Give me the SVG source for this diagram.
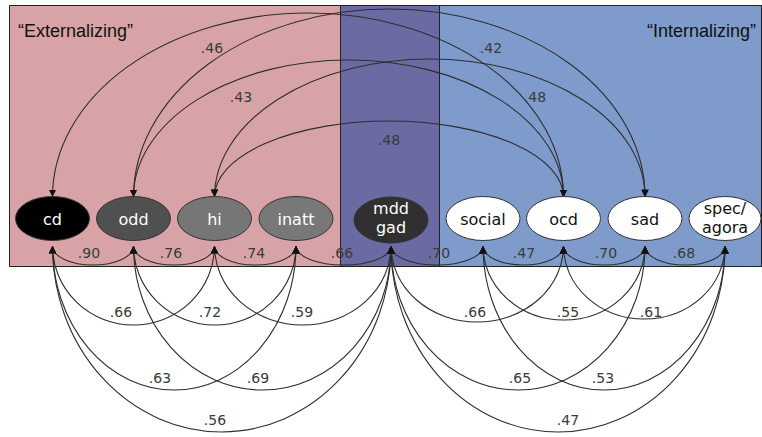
<svg xmlns="http://www.w3.org/2000/svg" width="762" height="437" viewBox="0 0 762 437">
  <defs>
    <marker id="arr" viewBox="0 0 10 10" refX="10" refY="5" markerUnits="userSpaceOnUse" markerWidth="7.5" markerHeight="7.5" orient="auto-start-reverse">
      <path d="M0,0 L10,5 L0,10 z" fill="#111"/>
    </marker>
    <style>
      .panel { stroke: #222; stroke-width: 1; }
      .conn { fill: none; stroke: #2e2e2e; stroke-width: 1.1; marker-start: url(#arr); marker-end: url(#arr); }
      .node { stroke: #333; stroke-width: 1; }
      .nt { font-family: "DejaVu Sans", Verdana, sans-serif; font-size: 16px; text-anchor: middle; }
      .lbl { font-family: "DejaVu Sans", Verdana, sans-serif; font-size: 14px; fill: #3a3a3a; text-anchor: middle; }
      .title { font-family: "Liberation Sans", Arial, sans-serif; font-size: 18px; fill: #111; }
    </style>
  </defs>
  <rect width="762" height="437" fill="#ffffff"/>
  <g id="regions">
    <rect x="9.5" y="5.5" width="331" height="261" fill="#d8a3a6" class="panel"/>
    <rect x="340.5" y="5.5" width="99" height="261" fill="#6b6aa2" class="panel"/>
    <rect x="439.5" y="5.5" width="322" height="261" fill="#7e9bcc" class="panel"/>
    <text x="18" y="37" class="title">“Externalizing”</text>
    <text x="756" y="37" class="title" text-anchor="end">“Internalizing”</text>
  </g>
  <g id="connectors">
    <path class="conn" d="M52.5,197 A255.5,184 0 0 1 563.5,197"/>
    <path class="conn" d="M133.5,197 A255.75,188 0 0 1 645,197"/>
    <path class="conn" d="M133.5,197 A215,137 0 0 1 563.5,197"/>
    <path class="conn" d="M214.5,197 A215.25,138 0 0 1 645,197"/>
    <path class="conn" d="M214.5,197 A174.5,76 0 0 1 563.5,197"/>

    <path class="conn" d="M52.5,246 A40.5,19 0 0 0 133.5,246"/>
    <path class="conn" d="M133.5,246 A40.5,19 0 0 0 214.5,246"/>
    <path class="conn" d="M214.5,246 A40.75,19 0 0 0 296,246"/>
    <path class="conn" d="M296,246 A47.5,19 0 0 0 391,246"/>
    <path class="conn" d="M391,246 A46,19 0 0 0 483,246"/>
    <path class="conn" d="M483,246 A40.25,19 0 0 0 563.5,246"/>
    <path class="conn" d="M563.5,246 A40.75,19 0 0 0 645,246"/>
    <path class="conn" d="M645,246 A40,19 0 0 0 725,246"/>

    <path class="conn" d="M52.5,246 A81,79 0 0 0 214.5,246"/>
    <path class="conn" d="M133.5,246 A81.25,79 0 0 0 296,246"/>
    <path class="conn" d="M214.5,246 A88.25,79 0 0 0 391,246"/>
    <path class="conn" d="M391,246 A86.25,76 0 0 0 563.5,246"/>
    <path class="conn" d="M483,246 A81,74 0 0 0 645,246"/>
    <path class="conn" d="M563.5,246 A80.75,73 0 0 0 725,246"/>

    <path class="conn" d="M52.5,246 A121.75,144 0 0 0 296,246"/>
    <path class="conn" d="M133.5,246 A128.75,144 0 0 0 391,246"/>
    <path class="conn" d="M391,246 A127,144 0 0 0 645,246"/>
    <path class="conn" d="M483,246 A121,144 0 0 0 725,246"/>

    <path class="conn" d="M52.5,246 A169.25,186 0 0 0 391,246"/>
    <path class="conn" d="M391,246 A167,186 0 0 0 725,246"/>
  </g>
  <g id="labels">
    <text class="lbl" x="212" y="53">.46</text>
    <text class="lbl" x="491" y="53">.42</text>
    <text class="lbl" x="241" y="102">.43</text>
    <text class="lbl" x="535" y="102">.48</text>
    <text class="lbl" x="389" y="145">.48</text>

    <text class="lbl" x="89" y="258">.90</text>
    <text class="lbl" x="171" y="258">.76</text>
    <text class="lbl" x="254" y="258">.74</text>
    <text class="lbl" x="342" y="258">.66</text>
    <text class="lbl" x="439" y="258">.70</text>
    <text class="lbl" x="524" y="258">.47</text>
    <text class="lbl" x="606" y="258">.70</text>
    <text class="lbl" x="684" y="258">.68</text>

    <text class="lbl" x="121" y="317">.66</text>
    <text class="lbl" x="210" y="317">.72</text>
    <text class="lbl" x="302" y="317">.59</text>
    <text class="lbl" x="475" y="317">.66</text>
    <text class="lbl" x="568" y="317">.55</text>
    <text class="lbl" x="651" y="317">.61</text>

    <text class="lbl" x="160" y="383">.63</text>
    <text class="lbl" x="258" y="383">.69</text>
    <text class="lbl" x="520" y="383">.65</text>
    <text class="lbl" x="603" y="383">.53</text>

    <text class="lbl" x="215" y="425">.56</text>
    <text class="lbl" x="568" y="425">.47</text>
  </g>
  <g id="cd">
    <ellipse class="node" cx="52.5" cy="218.5" rx="37" ry="22" fill="#000000"/>
    <text class="nt" x="52.5" y="225" fill="#ffffff">cd</text>
  </g>
  <g id="odd">
    <ellipse class="node" cx="133.5" cy="218.5" rx="37" ry="22" fill="#505050"/>
    <text class="nt" x="133.5" y="225" fill="#ffffff">odd</text>
  </g>
  <g id="hi">
    <ellipse class="node" cx="214.5" cy="218.5" rx="37" ry="22" fill="#767676"/>
    <text class="nt" x="214.5" y="225" fill="#ffffff">hi</text>
  </g>
  <g id="inatt">
    <ellipse class="node" cx="296" cy="218.5" rx="37" ry="22" fill="#787878"/>
    <text class="nt" x="296" y="225" fill="#ffffff">inatt</text>
  </g>
  <g id="mdd_gad">
    <ellipse class="node" cx="391" cy="220" rx="37" ry="23" fill="#303030"/>
    <text class="nt" x="391" y="214" fill="#ffffff">mdd</text>
    <text class="nt" x="391" y="233" fill="#ffffff">gad</text>
  </g>
  <g id="social">
    <ellipse class="node" cx="483" cy="218.5" rx="37" ry="22" fill="#ffffff"/>
    <text class="nt" x="483" y="225" fill="#111">social</text>
  </g>
  <g id="ocd">
    <ellipse class="node" cx="563.5" cy="218.5" rx="37" ry="22" fill="#ffffff"/>
    <text class="nt" x="563.5" y="225" fill="#111">ocd</text>
  </g>
  <g id="sad">
    <ellipse class="node" cx="645" cy="218.5" rx="37" ry="22" fill="#ffffff"/>
    <text class="nt" x="645" y="225" fill="#111">sad</text>
  </g>
  <g id="spec_agora">
    <ellipse class="node" cx="725" cy="218.5" rx="36" ry="22" fill="#ffffff"/>
    <text class="nt" x="725" y="214" fill="#111">spec/</text>
    <text class="nt" x="725" y="233" fill="#111">agora</text>
  </g>
</svg>
